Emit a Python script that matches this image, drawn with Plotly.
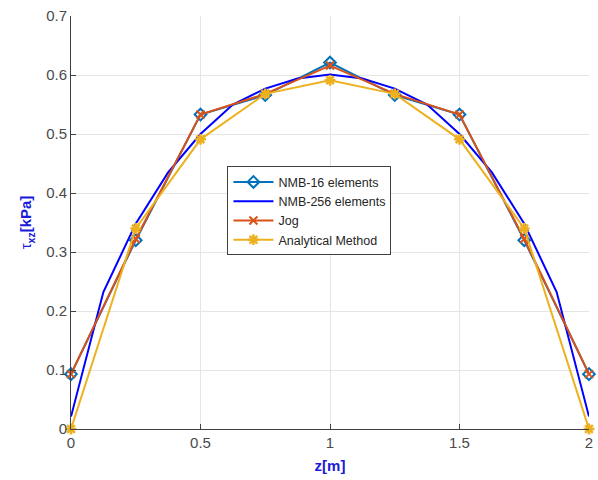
import plotly.graph_objects as go

z_coarse = [0, 0.25, 0.5, 0.75, 1.0, 1.25, 1.5, 1.75, 2.0]
nmb16 = [0.093, 0.320, 0.533, 0.566, 0.621, 0.566, 0.533, 0.320, 0.093]
jog = [0.093, 0.322, 0.533, 0.568, 0.616, 0.568, 0.533, 0.322, 0.093]
analytical = [0.0, 0.340, 0.491, 0.568, 0.591, 0.568, 0.491, 0.340, 0.0]

z_fine = [0, 0.125, 0.25, 0.375, 0.5, 0.625, 0.75, 0.875, 1.0,
          1.125, 1.25, 1.375, 1.5, 1.625, 1.75, 1.875, 2.0]
nmb256 = [0.021, 0.232, 0.348, 0.435, 0.500, 0.550, 0.577, 0.594, 0.601,
          0.594, 0.577, 0.550, 0.500, 0.435, 0.348, 0.232, 0.021]

x_ticks = [0, 0.5, 1, 1.5, 2]
x_ticklabels = ["0", "0.5", "1", "1.5", "2"]
y_ticks = [0, 0.1, 0.2, 0.3, 0.4, 0.5, 0.6, 0.7]
y_ticklabels = ["0", "0.1", "0.2", "0.3", "0.4", "0.5", "0.6", "0.7"]

fig = go.Figure()
fig.add_trace(go.Scatter(
    x=z_coarse, y=nmb16, name="NMB-16 elements", mode="lines+markers",
    line=dict(color="#0072BD", width=2),
    marker=dict(symbol="diamond-open", size=9, color="#0072BD", line=dict(width=2)),
    cliponaxis=False))
fig.add_trace(go.Scatter(
    x=z_fine, y=nmb256, name="NMB-256 elements", mode="lines",
    line=dict(color="#0000FF", width=2), cliponaxis=False))
fig.add_trace(go.Scatter(
    x=z_coarse, y=jog, name="Jog", mode="lines+markers",
    line=dict(color="#D95319", width=2),
    marker=dict(symbol="x-thin-open", size=8, color="#D95319", line=dict(width=2, color="#D95319")),
    cliponaxis=False))
fig.add_trace(go.Scatter(
    x=z_coarse, y=analytical, name="Analytical Method", mode="lines+markers",
    line=dict(color="#EDB120", width=2),
    marker=dict(symbol="asterisk-open", size=9, color="#EDB120", line=dict(width=2.5, color="#EDB120")),
    cliponaxis=False))

fig.update_layout(
    width=598, height=480,
    margin=dict(l=71, r=5, t=16, b=51),
    paper_bgcolor="white", plot_bgcolor="white",
    font=dict(family="Arial, Liberation Sans, sans-serif", size=14, color="#404040"),
    showlegend=True,
    legend=dict(
        x=0.302, y=0.636, xanchor="left", yanchor="top",
        bgcolor="white", bordercolor="#404040", borderwidth=1,
        font=dict(size=12.5, color="#262626"),
        tracegroupgap=0, itemwidth=40,
    ),
    xaxis=dict(
        range=[0, 2], tickvals=x_ticks, ticktext=x_ticklabels,
        showgrid=True, gridcolor="#e5e5e5", gridwidth=1,
        showline=True, linecolor="#404040", linewidth=1,
        ticks="inside", ticklen=5, tickcolor="#404040",
        zeroline=False, mirror=False,
        tickfont=dict(size=15, color="#4a4a4a"),
        title=dict(text="<b>z[m]</b>", font=dict(size=15, color="#1a1adb"), standoff=10),
    ),
    yaxis=dict(
        range=[0, 0.7], tickvals=y_ticks, ticktext=y_ticklabels,
        showgrid=True, gridcolor="#e5e5e5", gridwidth=1,
        showline=True, linecolor="#404040", linewidth=1,
        ticks="inside", ticklen=5, tickcolor="#404040",
        zeroline=False, mirror=False,
        tickfont=dict(size=15, color="#4a4a4a"),
        title=dict(text="τ<sub><b>xz</b></sub><b>[kPa]</b>", font=dict(size=15, color="#1a1adb"), standoff=10),
    ),
)

fig.write_html("out.html")
